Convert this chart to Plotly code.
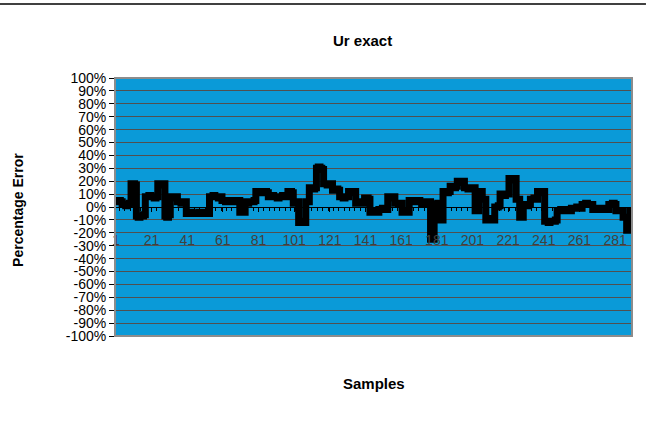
import plotly.graph_objects as go

# percentage error per sample
errors = [
    4, 4, 5, 4, 2, 2, 1, 2, 3, 18,
    18, 17, -7, -8, -7, -7, -6, 8, 8, 9,
    8, 8, 7, 8, 18, 18, 17, 18, -7, -8,
    -6, 8, 8, 7, 8, 4, 4, 3, 4, 4,
    -5, -5, -4, -5, -5, -5, -5, -4, -5, -5,
    -5, -4, -5, 8, 8, 9, 8, 8, 7, 8,
    5, 5, 4, 5, 5, 5, 4, 5, 5, 5,
    -4, -4, -4, 4, 3, 4, 4, 4, 5, 12,
    12, 11, 12, 12, 12, 11, 8, 8, 9, 8,
    8, 7, 8, 8, 9, 8, 8, 12, 12, 11,
    3, 3, 4, -12, -12, -11, -12, 4, 4, 15,
    15, 14, 15, 30, 31, 30, 29, 18, 18, 17,
    18, 18, 13, 13, 14, 13, 8, 8, 7, 8,
    8, 12, 12, 11, 12, 3, 3, 4, 3, 3,
    7, 7, 6, -4, -4, -3, -4, -4, -2, -2,
    -1, -2, -2, 8, 8, 7, 8, 3, 3, 2,
    3, -4, -4, -3, -4, 5, 5, 4, 5, 5,
    5, 4, 2, 2, 2, 4, 4, -25, -25, 2,
    2, 3, -10, -10, 12, 12, 11, 12, 16, 16,
    15, 16, 20, 20, 19, 20, 15, 15, 14, 15,
    15, 15, -3, -3, 12, 12, 6, 6, -10, -10,
    -9, -10, -10, 0, 0, 1, 10, 10, 9, 10,
    10, 22, 22, 21, 22, 6, 6, -8, -8, 2,
    2, 1, 2, 6, 6, 7, 6, 12, 12, 11,
    12, -11, -11, -12, -11, -11, -11, -10, -3, -3,
    -2, -3, -3, -3, -2, -3, -1, -1, -1, 0,
    -1, -1, 2, 2, 3, 2, 2, 2, -2, -2,
    -2, -1, -2, -2, -2, -1, -2, 2, 2, 3,
    2, -3, -3, -3, -3, -8, -8, -18, -18, -3,
]
samples = list(range(1, len(errors) + 1))

y_ticks = list(range(-100, 101, 10))
y_labels = [f"{v}%" for v in y_ticks]  # plain hyphen, like the original

title_text = "Ur exact"
x_title = "Samples"
y_title = "Percentage Error"

fig = go.Figure()
fig.add_trace(go.Scatter(
    x=samples, y=errors, mode="lines",
    line=dict(color="black", width=7, shape="hvh"),
    showlegend=False,
))

fig.update_layout(
    width=652, height=434,
    margin=dict(l=115, r=20, t=78, b=98),
    paper_bgcolor="white",
    plot_bgcolor="#0a9ad8",
    font=dict(family="Liberation Sans, Arial, sans-serif", color="black"),
    showlegend=False,
)

fig.update_yaxes(
    range=[-100, 100], tickvals=y_ticks, ticktext=y_labels,
    showgrid=True, gridcolor="#505050", gridwidth=1,
    zeroline=False,
    ticks="outside", ticklen=5, tickcolor="black",
    tickfont=dict(size=14, color="black"),
    showline=False,
)

fig.update_xaxes(
    range=[0.5, len(errors) + 0.5],
    tick0=1, dtick=20,
    anchor="free", position=0.5,
    showgrid=False, zeroline=False,
    showline=True, linecolor="black", linewidth=1,
    ticks="outside", ticklen=4, tickcolor="black",
    minor=dict(dtick=3, ticks="outside", ticklen=3, tickcolor="black", showgrid=False),
    ticklabelstandoff=16,
    tickfont=dict(size=14, color="#404040"),
)

# plot frame and top rule
fig.add_shape(type="rect", xref="paper", yref="paper", x0=0, x1=1, y0=0, y1=1,
              line=dict(color="#8c8c8c", width=2))
fig.add_shape(type="line", xref="paper", yref="paper", x0=-0.223, x1=1.027,
              y0=1.287, y1=1.287, line=dict(color="black", width=1.5))

fig.add_annotation(text=f"<b>{title_text}</b>", xref="paper", yref="paper",
                   x=0.478, y=1.147, xanchor="center", yanchor="middle",
                   showarrow=False, font=dict(size=15))
fig.add_annotation(text=f"<b>{x_title}</b>", xref="paper", yref="paper",
                   x=0.5, y=-0.186, xanchor="center", yanchor="middle",
                   showarrow=False, font=dict(size=15))
fig.add_annotation(text=f"<b>{y_title}</b>", xref="paper", yref="paper",
                   x=-0.188, y=0.488, xanchor="center", yanchor="middle",
                   showarrow=False, textangle=-90, font=dict(size=14))

# drop the default page margin so the figure sits at the window's corner
fig.write_html("out.html", config={"displayModeBar": False},
               post_script="document.body.style.margin='0';")
